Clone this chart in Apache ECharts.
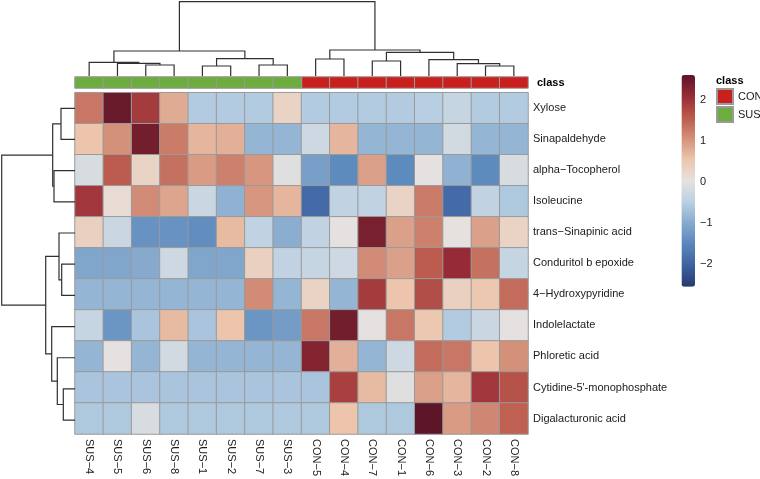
<!DOCTYPE html>
<html><head><meta charset="utf-8">
<script src="https://cdn.jsdelivr.net/npm/echarts@6/dist/echarts.min.js"></script>
<style>html,body{margin:0;padding:0;background:#fff}#c{width:760px;height:479px}</style>
</head><body><div id="c"></div>
<script>
// ---- data ----
const samples = ['SUS−4','SUS−5','SUS−6','SUS−8','SUS−1','SUS−2','SUS−7','SUS−3','CON−5','CON−4','CON−7','CON−1','CON−6','CON−3','CON−2','CON−8'];
const sampleClass = ['SUS','SUS','SUS','SUS','SUS','SUS','SUS','SUS','CON','CON','CON','CON','CON','CON','CON','CON'];
const classNames = ['CON','SUS'];
const metabolites = ['Xylose','Sinapaldehyde','alpha−Tocopherol','Isoleucine','trans−Sinapinic acid','Conduritol b epoxide','4−Hydroxypyridine','Indolelactate','Phloretic acid',"Cytidine-5'-monophosphate",'Digalacturonic acid'];

const xylose        = [1.3, 2.5, 1.9, 0.8, -0.55,-0.55,-0.55, 0.3, -0.55,-0.55,-0.55,-0.55,-0.5,-0.35,-0.55,-0.55];
const sinapaldehyde = [0.55,1.05,2.4, 1.25, 0.7, 0.75,-0.85,-0.85, -0.25, 0.7,-0.85,-0.85,-0.85,-0.2,-0.85,-0.85];
const tocopherol    = [-0.15,1.55,0.3,1.35, 0.95,1.2, 1.0,-0.05, -1.15,-1.45,0.9,-1.45, 0.0,-0.9,-1.45,-0.15];
const isoleucine    = [1.95,0.15,1.1, 0.85,-0.3,-0.9, 1.0, 0.7, -1.9,-0.4,-0.4, 0.3, 1.25,-1.9,-0.4,-0.6];
const sinapinic     = [0.35,-0.3,-1.35,-1.35,-1.4,0.65,-0.4,-0.95, -0.4, 0.0, 2.35,0.9, 1.2, 0.05,0.9, 0.3];
const conduritol    = [-1.05,-1.05,-1.0,-0.25,-1.05,-1.05,0.35,-0.4, -0.35,-0.25,1.1,0.9, 1.55,2.1, 1.35,-0.35];
const hydroxypyr    = [-0.85,-0.85,-0.85,-0.85,-0.85,-0.85,1.1,-0.85, 0.3,-0.85,1.9, 0.55,1.7, 0.35,0.5, 1.4];
const indolelactate = [-0.35,-1.3,-0.65,0.65,-0.65,0.55,-1.3,-1.2, 1.3, 2.4, 0.0, 1.3, 0.5,-0.55,-0.3, 0.0];
const phloretic     = [-0.85,0.0,-0.85,-0.2,-0.85,-0.85,-0.85,-0.85, 2.25,0.75,-0.85,-0.25,1.4,1.3, 0.55,1.05];
const cytidine      = [-0.65,-0.65,-0.65,-0.65,-0.65,-0.65,-0.65,-0.65, -0.65,1.85,0.65,-0.05,0.9,0.7,1.95,1.65];
const digalact      = [-0.6,-0.6,-0.15,-0.6,-0.6,-0.6,-0.6,-0.6, -0.6,0.55,-0.6,-0.6, 2.6,0.95,1.15,1.5];
const rowValues = [xylose,sinapaldehyde,tocopherol,isoleucine,sinapinic,conduritol,hydroxypyr,indolelactate,phloretic,cytidine,digalact];

const legendTicks = [-2,-1,0,1,2];
const scaleMin = -2.55, scaleMax = 2.6;

// dendrograms: [left, right, height]; strings are leaves, numbers are earlier merges
const colTree = [
  ['SUS−6','SUS−8',11.0],
  ['SUS−5',0,12.7],
  ['SUS−4',1,13.7],
  ['SUS−1','SUS−2',10.0],
  ['SUS−7','SUS−3',11.0],
  [3,4,17.3],
  [2,5,25.0],
  ['CON−5','CON−4',17.0],
  ['CON−7','CON−1',15.0],
  ['CON−2','CON−8',10.0],
  ['CON−3',9,12.3],
  ['CON−6',10,16.3],
  [8,11,23.7],
  [7,12,26.0],
  [6,13,74.3]
];
const rowTree = [
  ['Xylose','Sinapaldehyde',14.0],
  ['alpha−Tocopherol','Isoleucine',21.0],
  [0,1,22.3],
  ['Conduritol b epoxide','4−Hydroxypyridine',13.3],
  ['trans−Sinapinic acid',3,16.0],
  ["Cytidine-5'-monophosphate",'Digalacturonic acid',11.7],
  ['Phloretic acid',5,17.7],
  ['Indolelactate',6,23.3],
  [4,7,29.3],
  [2,8,73.3]
];

// ---- build ----
function treeSegments(tree, leaves) {
  const nodes = [];
  const get = (ref) => typeof ref === 'string' ? {p: leaves.indexOf(ref) + 0.5, h: 0} : nodes[ref];
  const segs = [];
  tree.forEach(([l, r, h]) => {
    const a = get(l), b = get(r);
    segs.push([a.p, a.h, b.p, b.h, h]);
    nodes.push({p: (a.p + b.p) / 2, h: h});
  });
  return segs;
}
const colSegs = treeSegments(colTree, samples);
const rowSegs = treeSegments(rowTree, metabolites);

const heatData = [];
rowValues.forEach((row, yi) => row.forEach((v, xi) => heatData.push([xi, yi, v])));
const conData = [], susData = [];
sampleClass.forEach((c, i) => (c === 'CON' ? conData : susData).push([i, 0, 1]));

const FONT = '"Liberation Sans", Arial, sans-serif';
const LINE = '#303030';
const minus = (v) => v < 0 ? '−' + Math.abs(v) : String(v);

const chart = echarts.init(document.getElementById('c'), null, {renderer: 'canvas'});
chart.setOption({
  animation: false,
  textStyle: {fontFamily: FONT},
  grid: [
    {left: 75, top: 92.7, width: 453, height: 343},   // heatmap
    {left: 75, top: 77, width: 453, height: 11},      // annotation
    {left: 75, top: 1.7, width: 453, height: 74.3},   // top dendrogram
    {left: 1.7, top: 92.7, width: 73.3, height: 343}, // left dendrogram
    {left: 681.5, top: 58.6, width: 13.5, height: 246.6} // colour-bar axis
  ],
  xAxis: [
    {gridIndex: 0, type: 'category', data: samples, axisLine: {show: false}, axisTick: {show: false},
     axisLabel: {rotate: -90, margin: 5, fontSize: 11, color: '#1a1a1a', interval: 0}},
    {gridIndex: 1, type: 'category', data: samples, show: false},
    {gridIndex: 2, type: 'value', min: 0, max: 16, show: false},
    {gridIndex: 3, type: 'value', min: 0, max: 73.3, inverse: true, show: false},
    {gridIndex: 4, type: 'value', show: false, min: 0, max: 1}
  ],
  yAxis: [
    {gridIndex: 0, type: 'category', data: metabolites, inverse: true, position: 'right',
     axisLine: {show: false}, axisTick: {show: false},
     axisLabel: {margin: 5, fontSize: 11, color: '#1a1a1a', interval: 0}},
    {gridIndex: 1, type: 'category', data: ['class'], position: 'right',
     axisLine: {show: false}, axisTick: {show: false},
     axisLabel: {margin: 9, fontSize: 11, fontWeight: 'bold', color: '#000'}},
    {gridIndex: 2, type: 'value', min: 0, max: 74.3, show: false},
    {gridIndex: 3, type: 'value', min: 0, max: 11, inverse: true, show: false},
    {gridIndex: 4, type: 'value', min: -3, max: 3, interval: 1, position: 'right',
     axisLine: {show: false}, axisTick: {show: false}, splitLine: {show: false},
     axisLabel: {margin: 5, fontSize: 11, color: '#222', showMinLabel: false, showMaxLabel: false,
       formatter: (v) => legendTicks.indexOf(v) >= 0 ? minus(v) : ''}}
  ],
  visualMap: [{
    type: 'continuous', seriesIndex: 0, min: scaleMin, max: scaleMax, calculable: false,
    left: 681.5, top: 75, itemWidth: 13.5, itemHeight: 211.7, padding: 0, hoverLink: false,
    inRange: {color: ['#263a6b','#3d62a0','#5886bb','#85a9cd','#b9d0e3','#e6e2e0','#ecc6ad','#d4907a','#ba5a4d','#982b36','#5c1627']}
  }],
  legend: {
    data: classNames, orient: 'vertical', left: 716, top: 88, itemWidth: 16, itemHeight: 15, itemGap: 1,
    padding: 0, icon: 'rect', selectedMode: false, textStyle: {fontSize: 11, color: '#1a1a1a'}
  },
  graphic: [{type: 'text', left: 716, top: 75, style: {text: 'class', font: 'bold 11px ' + FONT, fill: '#000'}}],
  series: [
    {type: 'heatmap', name: 'value', xAxisIndex: 0, yAxisIndex: 0, data: heatData,
     itemStyle: {borderColor: '#9a9a9a', borderWidth: 1}, emphasis: {disabled: true}},
    {type: 'heatmap', name: 'CON', xAxisIndex: 1, yAxisIndex: 1, data: conData,
     itemStyle: {color: '#C9201E', borderColor: '#9a9a9a', borderWidth: 1}, emphasis: {disabled: true}},
    {type: 'heatmap', name: 'SUS', xAxisIndex: 1, yAxisIndex: 1, data: susData,
     itemStyle: {color: '#6DAD3F', borderColor: '#9a9a9a', borderWidth: 1}, emphasis: {disabled: true}},
    {type: 'custom', xAxisIndex: 2, yAxisIndex: 2, data: colSegs, silent: true,
     renderItem: (p, api) => ({type: 'polyline', shape: {points: [
        api.coord([api.value(0), api.value(1)]), api.coord([api.value(0), api.value(4)]),
        api.coord([api.value(2), api.value(4)]), api.coord([api.value(2), api.value(3)])]},
        style: {stroke: LINE, lineWidth: 1.2, fill: null}})},
    {type: 'custom', xAxisIndex: 3, yAxisIndex: 3, data: rowSegs, silent: true,
     renderItem: (p, api) => ({type: 'polyline', shape: {points: [
        api.coord([api.value(1), api.value(0)]), api.coord([api.value(4), api.value(0)]),
        api.coord([api.value(4), api.value(2)]), api.coord([api.value(3), api.value(2)])]},
        style: {stroke: LINE, lineWidth: 1.2, fill: null}})}
  ]
});
</script></body></html>
